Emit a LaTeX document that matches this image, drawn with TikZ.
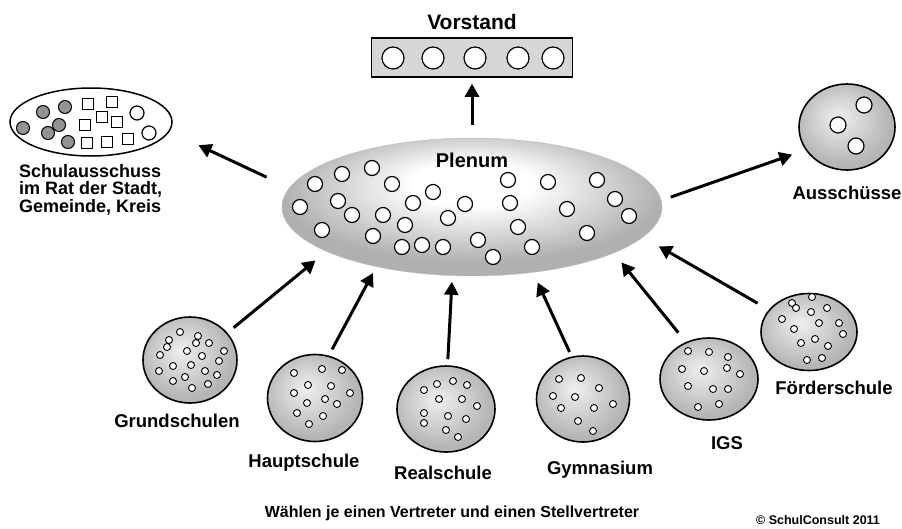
\documentclass[tikz,border=0pt]{standalone}
\usepackage{fontspec}
\setmainfont{Liberation Sans}
\usetikzlibrary{arrows.meta, positioning, shapes.geometric}

\pgfdeclareradialshading{plenumshade}{\pgfpoint{0bp}{10bp}}{color(0bp)=(white); color(8bp)=(white); color(25bp)=(gray!62); color(50bp)=(gray!62)}
\pgfdeclareradialshading{schoolshade}{\pgfpoint{-5bp}{6bp}}{color(0bp)=(gray!12); color(25bp)=(gray!58); color(50bp)=(gray!58)}

\begin{document}
\begin{tikzpicture}[x=1pt, y=-1pt,
	lbl/.style={font=\bfseries\fontsize{18.5}{20}\selectfont, inner sep=0pt, text height=13pt, text depth=4pt},
	school/.style={ellipse, draw, line width=1.6pt, shading=schoolshade, inner sep=0pt},
	dot/.style={draw, fill=white, line width=0.9pt},
	seat/.style={draw, fill=white, line width=1.2pt},
	arrow/.style={-{Triangle[length=13pt, width=14pt]}, line width=3pt}
]
	\useasboundingbox (0,0) rectangle (902,528);

	% Plenum
	\node[ellipse, draw=gray!50, shading=plenumshade, minimum width=380pt, minimum height=138pt, inner sep=0pt] (plenum) at (472,207) {};
	\node[font=\bfseries\fontsize{20}{24}\selectfont, inner sep=0pt, text height=14.5pt, text depth=0pt, below=14.5pt of plenum.north] (plenum-lbl) {Plenum};
	\foreach \x/\y in {315/184, 342/174, 372/168, 392/184, 300/207, 338/201, 352/215, 322/230, 383/215, 405/225,
		413/203, 433/192, 373/236, 402/247, 422/245, 443/247, 448/218, 465/204, 478/240, 493/257,
		508/180, 510/203, 518/227, 532/247, 548/182, 567/209, 587/233, 597/180, 615/199, 629/216}
		\draw[seat] (\x,\y) circle (7.5pt);

	% Vorstand
	\node[rectangle, draw, line width=1.6pt, fill=gray!32, minimum width=201pt, minimum height=39pt, inner sep=0pt] (vorstand) at (472,57.5) {};
	\node[font=\bfseries\fontsize{21}{24}\selectfont, inner sep=0pt, text height=15pt, text depth=0pt, above=8pt of vorstand] (vorstand-lbl) {Vorstand};
	\foreach \x in {393, 433, 475, 518, 553}
		\draw[seat] (\x,58) circle (11pt);

	% Schulausschuss
	\node[ellipse, draw, line width=1.5pt, fill=white, minimum width=162pt, minimum height=68pt, inner sep=0pt] (schulaus) at (91,122) {};
	\foreach \x/\y in {43/112, 65/107, 23/128, 59/125, 48/133, 68/142}
		\draw[fill=gray!85, line width=1pt] (\x,\y) circle (6.5pt);
	\foreach \x/\y in {88/104, 112/102, 102/117, 85/125, 117/122, 87/143, 107/142, 128/139}
		\draw[fill=white, line width=1pt] (\x-5.5,\y-5.5) rectangle ++(11,11);
	\foreach \x/\y in {137/113, 149/133}
		\draw[seat] (\x,\y) circle (7pt);
	\node[font=\bfseries\fontsize{18}{17.5}\selectfont, align=left, inner sep=0pt, anchor=north west] (schulaus-lbl) at (19,164)
		{Schulausschuss\\im Rat der Stadt,\\Gemeinde, Kreis};

	% Ausschuesse
	\node[school, minimum width=96pt, minimum height=86pt] (aussch) at (847,127) {};
	\node[lbl, below=15.5pt of aussch] (aussch-lbl) {Ausschüsse};
	\foreach \x/\y in {864/105, 838/125, 856/146}
		\draw[seat] (\x,\y) circle (8pt);

	% Schools
	\node[school, minimum width=94pt, minimum height=86pt] (grund) at (190,360) {};
	\node[school, minimum width=95pt, minimum height=87pt] (haupt) at (315,398) {};
	\node[school, minimum width=98pt, minimum height=86pt] (real) at (446,409) {};
	\node[school, minimum width=93pt, minimum height=86pt] (gym) at (583,399) {};
	\node[school, minimum width=98pt, minimum height=82pt] (igs) at (709,379) {};
	\node[school, minimum width=96pt, minimum height=77pt] (foerder) at (809,332) {};

	\node[lbl, below=10.5pt of grund, xshift=-13pt] (grund-lbl) {Grundschulen};
	\node[lbl, below=11.5pt of haupt, xshift=-11pt] (haupt-lbl) {Hauptschule};
	\node[lbl, below=13.5pt of real, xshift=-3pt] (real-lbl) {Realschule};
	\node[lbl, below=18.5pt of gym, xshift=17pt] (gym-lbl) {Gymnasium};
	\node[lbl, below=15.5pt of igs, xshift=18pt] (igs-lbl) {IGS};
	\node[lbl, below=10pt of foerder, xshift=25pt] (foerder-lbl) {Förderschule};

	\foreach \x/\y in {180/332, 169/340, 167/347, 198/336, 196/343, 209/343, 160/355, 187/351, 202/356, 224/351,
		173/366, 191/365, 219/361, 159/371, 205/371, 217/375, 173/381, 185/377, 208/384, 192/388,
		294/373, 322/369, 342/370, 308/385, 331/386, 294/393, 350/393, 325/399, 307/403, 337/404,
		297/413, 323/416, 309/424,
		424/390, 437/384, 453/381, 467/385, 439/399, 462/399, 477/406, 424/413, 448/416, 466/419,
		424/423, 446/430, 458/437,
		559/379, 581/378, 599/388, 553/396, 575/397, 561/408, 594/408, 613/404, 578/421, 593/431,
		688/351, 709/352, 728/357, 682/369, 704/371, 727/368, 740/374, 688/386, 713/389, 728/389,
		698/407, 719/404,
		792/303, 796/308, 812/297, 827/308, 811/312, 782/319, 794/329, 819/323, 839/323, 843/334,
		801/343, 815/339, 828/346, 807/360, 822/358}
		\draw[dot] (\x,\y) circle (3.5pt);

	% Arrows
	\draw[arrow, shorten <=13pt, shorten >=6pt] (plenum.north) -- (vorstand.south);
	\draw[arrow, shorten <=25pt, shorten >=32pt] (plenum.174) -- (schulaus.353);
	\draw[arrow, shorten <=10pt, shorten >=14pt] (plenum.2) -- (aussch.209);
	\draw[arrow, shorten <=8pt, shorten >=14pt] (grund.36) -- (plenum.197);
	\draw[arrow, shorten <=7pt, shorten >=7pt] (haupt.72) -- (plenum.212);
	\draw[arrow, shorten <=6pt, shorten >=6pt] (real.88) -- (plenum.254);
	\draw[arrow, shorten <=5pt, shorten >=11pt] (gym.105) -- (plenum.313);
	\draw[arrow, shorten <=12pt, shorten >=12pt] (igs.122) -- (plenum.342);
	\draw[arrow, shorten <=13pt, shorten >=18pt] (foerder.151) -- (plenum.350);

	% Footer
	\node[font=\bfseries\fontsize{16}{19}\selectfont, inner sep=0pt] (choose) at (452,513) {Wählen je einen Vertreter und einen Stellvertreter};
	\node[font=\bfseries\fontsize{12.5}{15}\selectfont, inner sep=0pt, anchor=base] (copyright) at (818,524) {© SchulConsult 2011};
\end{tikzpicture}
\end{document}
